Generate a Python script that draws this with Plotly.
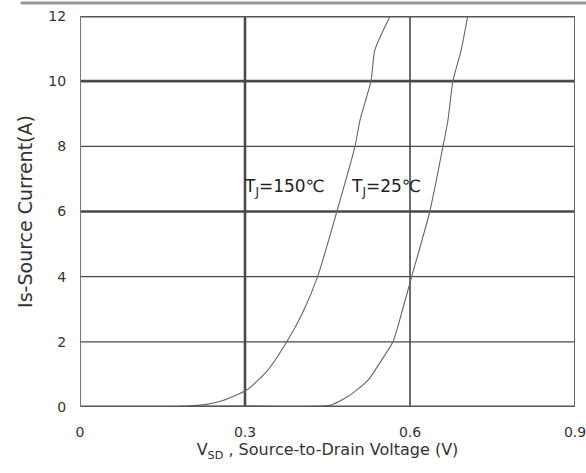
import plotly.graph_objects as go

# 150 C curve
v150 = [0.0, 0.15, 0.187, 0.23, 0.26, 0.303, 0.34, 0.376, 0.405, 0.432, 0.467, 0.50, 0.509, 0.529, 0.536, 0.564]
i150 = [0.0, 0.0, 0.02, 0.08, 0.2, 0.52, 1.1, 2.0, 2.9, 4.0, 6.0, 8.0, 8.8, 10.0, 10.95, 12.0]
# 25 C curve
v25 = [0.0, 0.30, 0.4545, 0.48, 0.503, 0.525, 0.545, 0.569, 0.585, 0.603, 0.636, 0.660, 0.669, 0.678, 0.693, 0.705]
i25 = [0.0, 0.03, 0.05, 0.25, 0.52, 0.85, 1.35, 2.0, 2.9, 4.0, 6.0, 8.0, 8.8, 10.0, 10.95, 12.0]

x_ticks = [0, 0.3, 0.6, 0.9]
x_tick_labels = ["0", "0.3", "0.6", "0.9"]
y_ticks = [0, 2, 4, 6, 8, 10, 12]
y_tick_labels = ["0", "2", "4", "6", "8", "10", "12"]

# grid line widths (styling)
x_grid_w = {0.3: 2.6, 0.6: 1.6}
y_grid_w = {2: 1.1, 4: 1.1, 6: 2.6, 8: 1.1, 10: 2.6}

FONT = "DejaVu Sans"

fig = go.Figure()
fig.add_trace(go.Scatter(x=v150, y=i150, mode="lines", line=dict(color="#666", width=1.1, shape="spline", smoothing=0.6),
                         showlegend=False, hoverinfo="skip"))
fig.add_trace(go.Scatter(x=v25, y=i25, mode="lines", line=dict(color="#666", width=1.1, shape="spline", smoothing=0.6),
                         showlegend=False, hoverinfo="skip"))

shapes = []
for xv, w in x_grid_w.items():
    shapes.append(dict(type="line", xref="x", yref="y", x0=xv, x1=xv, y0=0, y1=12,
                       line=dict(color="#4a4a4a", width=w), layer="below"))
for yv, w in y_grid_w.items():
    shapes.append(dict(type="line", xref="x", yref="y", x0=0, x1=0.9, y0=yv, y1=yv,
                       line=dict(color="#4a4a4a", width=w), layer="below"))
# borders
shapes.append(dict(type="line", xref="x", yref="y", x0=0, x1=0.9, y0=12, y1=12,
                   line=dict(color="#555", width=3)))
shapes.append(dict(type="line", xref="x", yref="y", x0=0, x1=0.9, y0=0, y1=0,
                   line=dict(color="#555", width=3)))
shapes.append(dict(type="line", xref="x", yref="y", x0=0, x1=0, y0=0, y1=12,
                   line=dict(color="#777", width=2)))
shapes.append(dict(type="line", xref="x", yref="y", x0=0.9, x1=0.9, y0=0, y1=12,
                   line=dict(color="#666", width=2)))
# scan border at very top
shapes.append(dict(type="line", xref="paper", yref="paper", x0=-0.12, x1=1.03, y0=1.033, y1=1.033,
                   line=dict(color="#999", width=3)))

fig.update_layout(
    width=586, height=473,
    margin=dict(l=80, r=11, t=16, b=66),
    paper_bgcolor="white", plot_bgcolor="white",
    font=dict(family=FONT, size=15, color="#333"),
    shapes=shapes,
    xaxis=dict(range=[0, 0.9], tickvals=x_ticks, ticktext=x_tick_labels, showgrid=False, automargin=False,
               zeroline=False, showline=False, ticks="outside", ticklen=12, tickcolor="rgba(0,0,0,0)",
               ticklabeloverflow="allow",
               tickfont=dict(family=FONT, size=14, color="#333"),
               title=dict(text="V<sub>SD</sub> , Source-to-Drain Voltage (V)", standoff=5,
                          font=dict(family=FONT, size=16, color="#333"))),
    yaxis=dict(range=[0, 12], tickvals=y_ticks, ticktext=y_tick_labels, showgrid=False, automargin=False,
               zeroline=False, showline=False, ticks="outside", ticklen=10, tickcolor="rgba(0,0,0,0)",
               tickfont=dict(family=FONT, size=14, color="#333"),
               title=dict(text="Is-Source Current(A)", standoff=10, font=dict(family=FONT, size=19, color="#333"))),
    annotations=[
        dict(x=0.3, y=6.75, xref="x", yref="y", text="T<sub>J</sub>=150℃", showarrow=False, xshift=-3,
             xanchor="left", yanchor="middle", font=dict(family=FONT, size=17, color="#222")),
        dict(x=0.494, y=6.75, xref="x", yref="y", text="T<sub>J</sub>=25℃", showarrow=False, xshift=-3,
             xanchor="left", yanchor="middle", font=dict(family=FONT, size=17, color="#222")),
    ],
)

fig.write_html("out.html", post_script="document.body.style.margin='0px';",
               config={"displayModeBar": False})
